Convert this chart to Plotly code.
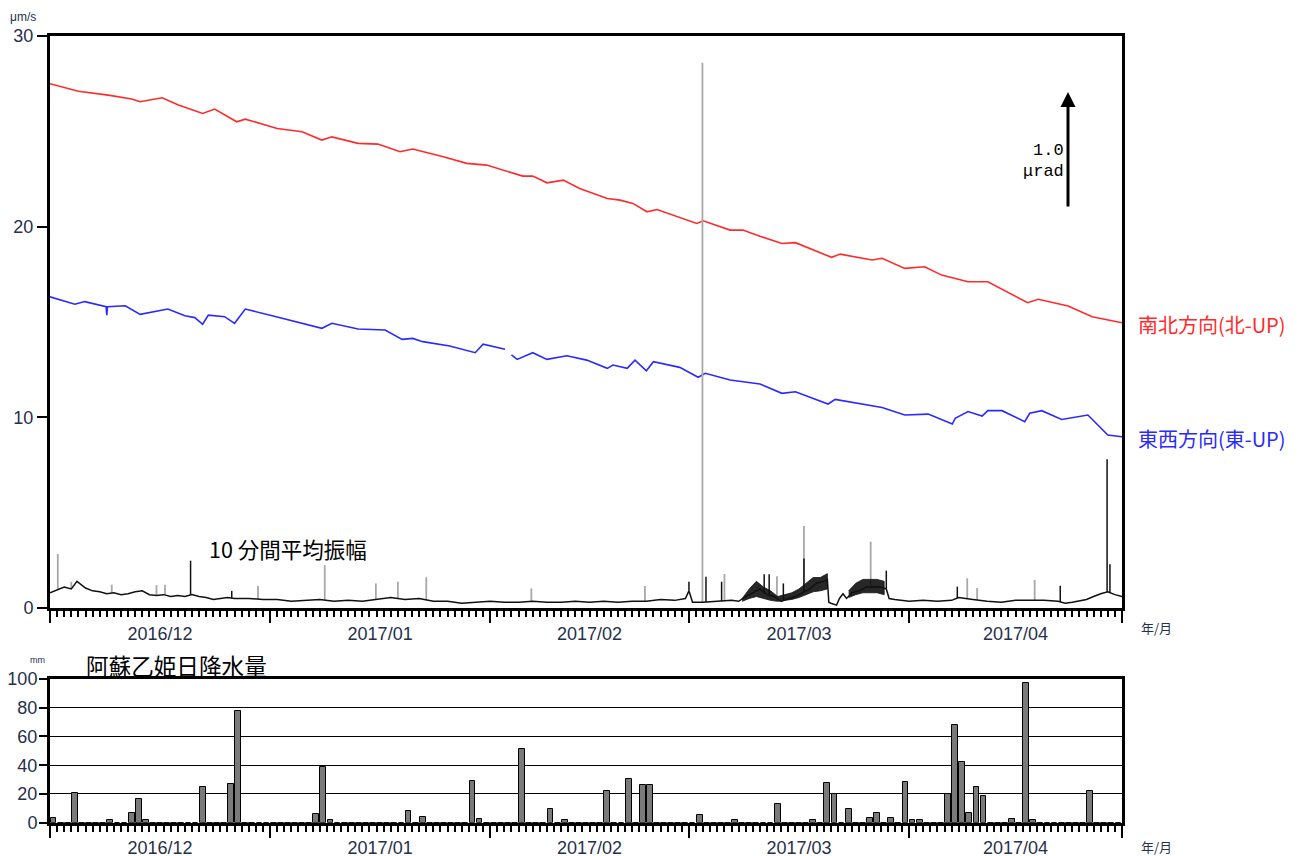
import plotly.graph_objects as go
import pandas as pd
import numpy as np

START = "2016-12-01"
END = "2017-05-01"

# ---- tilt (µrad, offset scale), days after 2016-12-01 ----
ns_day = [0, 4, 8.2, 11.5, 12.7, 15.8, 18, 21.5, 23.2, 26.3, 27.5, 32, 35.5, 38.3, 39.7, 43.4,
          46.2, 49.3, 51.1, 55.4, 58.7, 61.5, 66.6, 68, 70, 72.3, 74.6, 78.5, 80.3, 82.1, 84.1,
          85.5, 91.1, 92, 95.8, 97.6, 100, 103.1, 105, 110.1, 111.3, 115.8, 117.2, 120.4, 123.2,
          125.6, 129.3, 132.1, 137.7, 139.2, 143.4, 146.8, 151]
ns_val = [27.5, 27.1, 26.9, 26.7, 26.55, 26.76, 26.4, 25.94, 26.17, 25.5, 25.64, 25.15, 24.98,
          24.54, 24.71, 24.37, 24.33, 23.93, 24.07, 23.67, 23.32, 23.23, 22.65, 22.65, 22.3, 22.44,
          22.0, 21.48, 21.39, 21.22, 20.78, 20.9, 20.17, 20.31, 19.82, 19.82, 19.5, 19.12, 19.16,
          18.39, 18.56, 18.25, 18.34, 17.81, 17.9, 17.46, 17.11, 17.11, 16.01, 16.19, 15.84,
          15.28, 14.96]

ew_day = [0, 3.5, 4.9, 7.9, 8.0, 8.1, 10.6, 12.7, 16.6, 19, 20.4, 21.5, 22.3, 24.6, 26, 27.5,
          31.3, 34.9, 38.3, 39.7, 43.4, 47.2, 49.6, 51.1, 52.5, 56.3, 59.9, 61, 64.1, None, 65,
          65.8, 68, 70, 72.8, 75.6, 78.5, 79.3, 81.3, 82.4, 84, 85, 88.7, 91.3, 92.3, 95.8, 100,
          103.1, 105, 109.6, 110.6, 117.2, 120.4, 123.7, 127.1, 127.5, 129.3, 131.3, 132.1, 134.1,
          137.3, 138, 139.7, 142.5, 146.2, 149, 151]
ew_val = [16.32, 15.93, 16.07, 15.8, 15.36, 15.8, 15.85, 15.4, 15.68, 15.33, 15.23, 14.88, 15.36,
          15.28, 14.93, 15.68, 15.33, 14.98, 14.67, 14.93, 14.63, 14.58, 14.09, 14.14, 13.97,
          13.74, 13.39, 13.84, 13.57, None, 13.27, 13.04, 13.39, 13.04, 13.23, 13.0, 12.57, 12.74,
          12.57, 13.0, 12.44, 12.92, 12.62, 12.1, 12.31, 11.96, 11.75, 11.26, 11.34, 10.7, 10.94,
          10.52, 10.12, 10.17, 9.65, 9.95, 10.3, 10.07, 10.35, 10.35, 9.77, 10.21, 10.35, 9.89,
          10.12, 9.07, 8.98]

# ---- 10-minute mean amplitude (µm/s) ----
amp_day = [0, 1, 2, 3, 3.8, 5, 6, 7, 8, 9, 10, 11, 12, 13, 14, 15, 16, 17, 18, 19, 20, 21, 22,
           23, 24, 25, 26, 28, 30, 32, 34, 36, 38, 40, 42, 44, 46, 48, 50, 52, 54, 56, 58, 60,
           62, 64, 66, 68, 70, 72, 74, 76, 78, 80, 82, 84, 86, 88, 89.5, 90, 90.5, 92, 94, 96,
           97, 98, 99, 100, 101, 102, 103, 104, 105, 106, 107, 108, 109, 109.5, 109.7, 110,
           110.8, 111.2, 111.7, 112.2, 113, 114, 115, 116, 117, 117.8, 118.2, 119, 121, 123,
           125, 127, 128, 130, 132, 134, 136, 138, 140, 142, 143, 144, 146, 147, 148, 149, 150,
           151]
amp_val = [0.8, 0.95, 1.1, 1.0, 1.4, 1.05, 0.9, 0.85, 0.75, 0.8, 0.7, 0.75, 0.85, 0.9, 0.7, 0.65,
           0.7, 0.6, 0.65, 0.6, 0.7, 0.6, 0.55, 0.45, 0.5, 0.55, 0.5, 0.5, 0.45, 0.45, 0.35, 0.4,
           0.45, 0.35, 0.4, 0.35, 0.45, 0.55, 0.45, 0.5, 0.35, 0.35, 0.25, 0.3, 0.35, 0.3, 0.3,
           0.35, 0.3, 0.3, 0.35, 0.3, 0.35, 0.3, 0.35, 0.35, 0.45, 0.4, 0.5, 0.9, 0.3, 0.3, 0.35,
           0.4, 0.35, 0.6, 0.8, 1.0, 0.7, 0.6, 0.35, 0.5, 0.6, 0.8, 1.0, 1.3, 1.4, 1.5, 0.3,
           0.25, 0.15, 0.5, 0.75, 0.5, 0.8, 0.9, 1.1, 1.1, 1.1, 1.0, 0.5, 0.45, 0.35, 0.4, 0.35,
           0.4, 0.55, 0.45, 0.35, 0.3, 0.4, 0.4, 0.4, 0.35, 0.25, 0.3, 0.45, 0.6, 0.75, 0.85,
           0.7, 0.6]

# noisy envelope periods
band1_day = [97.5, 98.5, 99.5, 100.5, 101.5, 102.5, 103.5, 104.5, 105.5, 106.5, 107.5, 108.5, 109.5]
band1_lo = [0.35, 0.5, 0.6, 0.5, 0.4, 0.35, 0.4, 0.45, 0.55, 0.7, 0.85, 0.9, 1.0]
band1_hi = [0.5, 1.0, 1.4, 1.1, 0.9, 0.6, 0.7, 0.8, 1.0, 1.3, 1.6, 1.6, 1.8]
band2_day = [112.5, 113.5, 114.5, 115.5, 116.5, 117.5]
band2_lo = [0.55, 0.7, 0.8, 0.8, 0.8, 0.7]
band2_hi = [0.9, 1.3, 1.5, 1.5, 1.5, 1.4]

gray_spike_day = [1.1, 3.0, 8.7, 15.0, 16.2, 29.3, 38.7, 45.9, 49.0, 53.0, 67.8, 83.8, 91.9,
                  95.0, 102.4, 106.2, 115.6, 129.2, 130.6, 138.7]
gray_spike_top = [2.83, 1.38, 1.22, 1.2, 1.22, 1.15, 2.25, 1.29, 1.38, 1.61, 1.03, 1.15, 28.6,
                  1.78, 1.67, 4.3, 3.48, 1.56, 1.05, 1.47]
black_spike_day = [19.8, 25.6, 90.0, 92.4, 94.6, 100.6, 101.3, 103.3, 106.2, 117.8, 127.8, 142.3,
                   148.9, 149.3]
black_spike_top = [2.48, 0.9, 1.38, 1.64, 1.38, 1.77, 1.77, 1.29, 2.6, 1.96, 1.12, 1.17, 7.8, 2.3]

# ---- Aso Otohime daily precipitation (mm) ----
precip_dec = [3.5, 0, 0, 21, 0, 0, 0, 0, 2, 0, 0, 6.5, 16.5, 2, 0, 0, 0, 0, 0, 0, 0, 25, 0, 0, 0,
              27, 77.5, 0, 0, 0, 0]
precip_jan = [0, 0, 0, 0, 0, 0, 5.8, 39, 2, 0, 0, 0, 0, 0, 0, 0, 0, 0, 0, 8, 0, 3.7, 0, 0, 0, 0,
              0, 0, 29, 2.5, 0]
precip_feb = [0, 0, 0, 0, 51.5, 0, 0, 0, 9.3, 0, 2, 0, 0, 0, 0, 0, 22, 0, 0, 30.5, 0, 26.5, 26.5,
              0, 0, 0, 0, 0]
precip_mar = [0, 5.6, 0, 0, 0, 0, 2, 0, 0, 0, 0, 0, 12.8, 0, 0, 0, 0, 2, 0, 27.5, 19.7, 0, 9.3, 0,
              0, 3.5, 6.5, 0, 3.5, 0, 28]
precip_apr = [2, 2, 0, 0, 0, 19.7, 68, 42, 6.5, 25, 18.6, 0, 0, 0, 2.5, 0, 97.5, 2, 0, 0, 0, 0, 0,
              0, 0, 22, 0, 0, 0, 0]
precip_mm = precip_dec + precip_jan + precip_feb + precip_mar + precip_apr

t0 = pd.Timestamp(START)


def to_dt(days):
    return [None if d is None else t0 + pd.Timedelta(days=d) for d in days]


W, H = 1299, 856
OFF = 8  # page body margin offset of the rendered figure


def px(x):
    return (x - OFF) / W


def py(y):
    return 1 - (y - OFF) / H


fig = go.Figure()

# tilt
fig.add_trace(go.Scatter(x=to_dt(ns_day), y=ns_val, mode="lines",
                         line=dict(color="#ff2a2a", width=1.6), xaxis="x", yaxis="y",
                         connectgaps=False))
fig.add_trace(go.Scatter(x=to_dt(ew_day), y=ew_val, mode="lines",
                         line=dict(color="#2a2aff", width=1.6), xaxis="x", yaxis="y",
                         connectgaps=False))


def spikes(days, tops):
    xs, ys = [], []
    for d, t in zip(days, tops):
        base = float(np.interp(d, amp_day, amp_val))
        xs += [d, d, None]
        ys += [base, t, None]
    return to_dt(xs), ys


gx, gy = spikes(gray_spike_day, gray_spike_top)
fig.add_trace(go.Scatter(x=gx, y=gy, mode="lines", line=dict(color="#a8a8a8", width=1.8),
                         xaxis="x", yaxis="y"))

for bd, lo, hi in [(band1_day, band1_lo, band1_hi), (band2_day, band2_lo, band2_hi)]:
    fig.add_trace(go.Scatter(x=to_dt(bd + bd[::-1]), y=lo + hi[::-1], mode="lines",
                             fill="toself", fillcolor="rgba(15,15,15,0.9)",
                             line=dict(color="#111111", width=0.8), xaxis="x", yaxis="y"))

fig.add_trace(go.Scatter(x=to_dt(amp_day), y=amp_val, mode="lines",
                         line=dict(color="#111111", width=1.5), xaxis="x", yaxis="y"))
bx, by = spikes(black_spike_day, black_spike_top)
fig.add_trace(go.Scatter(x=bx, y=by, mode="lines", line=dict(color="#111111", width=1.5),
                         xaxis="x", yaxis="y"))

# precipitation
p_days = [i + 0.5 for i in range(len(precip_mm))]
fig.add_trace(go.Bar(x=to_dt(p_days), y=precip_mm, width=0.82 * 86400000,
                     marker=dict(color="#7a7a7a", line=dict(color="black", width=1)),
                     xaxis="x2", yaxis="y2"))

tick_color = "#26304a"
xbase = dict(type="date", range=[START, END], showline=True, linewidth=3, linecolor="black",
             mirror=True, ticks="outside", ticklen=12, tickwidth=2, tickcolor="black",
             dtick="M1", tick0=START, ticklabelmode="period", tickformat="%Y/%m",
             ticklabelstandoff=-5,
             showgrid=False, zeroline=False, automargin=False,
             tickfont=dict(family="Liberation Sans", size=18, color=tick_color),
             minor=dict(ticks="outside", ticklen=6, tickwidth=1.5, tickcolor="black",
                        dtick=86400000, tick0=START, showgrid=False))

fig.update_layout(
    width=W, height=H, margin=dict(l=0, r=0, t=0, b=0, pad=0, autoexpand=False),
    paper_bgcolor="white", plot_bgcolor="white", showlegend=False, bargap=0,
    xaxis=dict(xbase, domain=[px(50), px(1122)], anchor="y"),
    xaxis2=dict(xbase, domain=[px(50), px(1122)], anchor="y2"),
    yaxis=dict(domain=[py(608), py(36)], range=[0, 30], dtick=10, ticks="outside",
               ticklen=10, tickwidth=1.5, tickcolor="black", showline=True, linewidth=3,
               linecolor="black", mirror=True, showgrid=False, zeroline=False, automargin=False,
               tickfont=dict(family="Liberation Sans", size=18, color=tick_color)),
    yaxis2=dict(domain=[py(822.7), py(679)], range=[0, 100], dtick=20, ticks="outside",
                ticklen=8, tickwidth=1.5, tickcolor="black", showline=True, linewidth=3,
                linecolor="black", mirror=True, showgrid=True, gridcolor="black",
                gridwidth=1.2, zeroline=False, automargin=False, ticklabelstandoff=-2,
                tickfont=dict(family="Liberation Sans", size=18, color=tick_color)),
)

jp = "Noto Sans CJK JP"
ann = [
    dict(text="μm/s", x=px(8), y=py(17), xanchor="left", yanchor="middle",
         font=dict(family="Liberation Sans", size=12, color=tick_color)),
    dict(text="mm", x=px(28), y=py(660), xanchor="left", yanchor="middle",
         font=dict(family="Liberation Sans", size=9, color=tick_color)),
    dict(text="10 分間平均振幅", x=px(207), y=py(548), xanchor="left", yanchor="middle",
         font=dict(family=jp, size=21.5, color="black")),
    dict(text="阿蘇乙姫日降水量", x=px(84), y=py(665), xanchor="left", yanchor="middle",
         font=dict(family=jp, size=22.6, color="black")),
    dict(text="南北方向(北-UP)", x=px(1136), y=py(324), xanchor="left", yanchor="middle",
         font=dict(family=jp, size=20, color="#ff2a2a")),
    dict(text="東西方向(東-UP)", x=px(1136), y=py(438), xanchor="left", yanchor="middle",
         font=dict(family=jp, size=20, color="#2a2aff")),
    dict(text="年/月", x=px(1139), y=py(627), xanchor="left", yanchor="middle",
         font=dict(family=jp, size=13, color=tick_color)),
    dict(text="年/月", x=px(1139), y=py(846), xanchor="left", yanchor="middle",
         font=dict(family=jp, size=13, color=tick_color)),
    dict(text="1.0", x=px(1066), y=py(150), xanchor="right", yanchor="middle",
         font=dict(family="Liberation Mono", size=17, color="black")),
    dict(text="μrad", x=px(1066), y=py(171), xanchor="right", yanchor="middle",
         font=dict(family="Liberation Mono", size=17, color="black")),
]
for a in ann:
    a.update(xref="paper", yref="paper", showarrow=False)
fig.update_layout(annotations=ann)
fig.add_annotation(xref="paper", yref="paper", x=px(1068), y=py(92), text="", showarrow=True,
                   ax=0, ay=116, arrowhead=2, arrowsize=1, arrowwidth=3, arrowcolor="black")

fig.write_html("out.html")
